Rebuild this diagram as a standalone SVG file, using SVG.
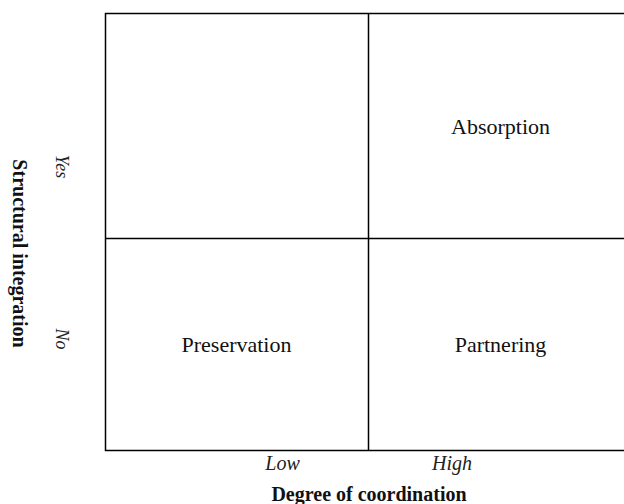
<svg xmlns="http://www.w3.org/2000/svg" width="624" height="504" viewBox="0 0 624 504">
<style>
.ln{stroke:#000;stroke-width:1.5;fill:none}
.lbl{font-family:"Liberation Serif","Times New Roman",serif;font-size:22px;fill:#111;text-anchor:middle}
.ax{font-family:"Liberation Serif","Times New Roman",serif;font-size:20px;font-weight:bold;fill:#111;text-anchor:middle}
.tk{font-family:"Liberation Serif","Times New Roman",serif;font-size:20px;font-style:italic;fill:#222;text-anchor:middle}
.tkv{font-family:"Liberation Serif","Times New Roman",serif;font-size:18px;font-style:italic;fill:#222;text-anchor:middle}
</style>
<rect width="624" height="504" fill="#fff"/>
<g id="grid">
<path class="ln" d="M632,13.5 H105.5 V450.5 H632 M368.5,13.5 V450.5 M105.5,238.5 H632"/>
</g>
<g id="absorption"><text class="lbl" x="500.5" y="134">Absorption</text></g>
<g id="preservation"><text class="lbl" x="236.5" y="352">Preservation</text></g>
<g id="partnering"><text class="lbl" x="500.5" y="352">Partnering</text></g>
<g id="x-axis">
<text class="tk" x="282.5" y="470">Low</text>
<text class="tk" x="452" y="470">High</text>
<text class="ax" x="369" y="501">Degree of coordination</text>
</g>
<g id="y-axis">
<text class="ax" transform="translate(13,253.5) rotate(90)">Structural integration</text>
<text class="tkv" transform="translate(56,166.5) rotate(90)">Yes</text>
<text class="tkv" transform="translate(56,339) rotate(90)">No</text>
</g>
</svg>
